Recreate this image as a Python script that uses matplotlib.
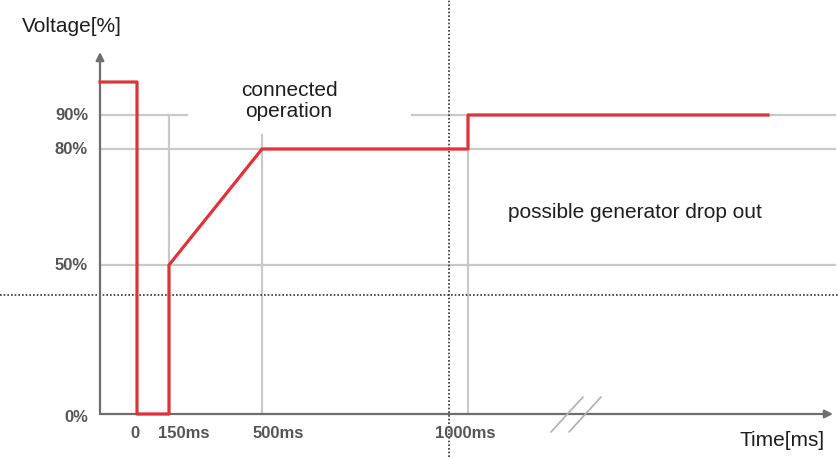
import numpy as np
import matplotlib.pyplot as plt
from matplotlib.transforms import offset_copy

# schematic voltage profile (time in ms, voltage in %)
trace_t = [-100, 0, 0, 150, 150, 500, 1000, 1000, 3000]
trace_v = [100, 100, 0, 0, 50, 80, 80, 90, 90]

y_ticks = [90, 80, 50, 0]
y_labels = ['90%', '80%', '50%', '0%']
x_ticks = [0, 150, 500, 1000]
x_labels = ['0', '150ms', '500ms', '1000ms']

dotted_v = 40      # horizontal dotted threshold
dotted_t = 955     # vertical dotted marker
break_t = 1720

# the drawing is not to scale: piecewise axis mapping
t_anchor = [-100, 0, 150, 500, 1000, 3000, 3500]
t_pos = [100, 137, 169, 262, 468, 768, 833]
v_anchor = [0, 50, 80, 90, 100, 120]
v_pos = [43, 192, 308, 342, 375, 405]


def extend(a, p, big=1e5):
    a = list(a); p = list(p)
    s0 = (p[1] - p[0]) / (a[1] - a[0])
    s1 = (p[-1] - p[-2]) / (a[-1] - a[-2])
    return ([a[0] - big] + a + [a[-1] + big],
            [p[0] - big * s0] + p + [p[-1] + big * s1])


ta, tp = extend(t_anchor, t_pos)
va, vp = extend(v_anchor, v_pos)
fx = lambda v: np.interp(v, ta, tp)
ix = lambda v: np.interp(v, tp, ta)
fy = lambda v: np.interp(v, va, vp)
iy = lambda v: np.interp(v, vp, va)

fig = plt.figure(figsize=(8.38, 4.57), dpi=100)
ax = fig.add_axes([0, 0, 1, 1])
ax.set_xscale('function', functions=(fx, ix))
ax.set_yscale('function', functions=(fy, iy))
ax.set_xlim(ix(0), ix(838))
ax.set_ylim(iy(0), iy(457))
ax.axis('off')

grid = '#c9c9c9'
t_end = ix(835)
for v in [80, 50]:
    ax.plot([-100, t_end], [v, v], color=grid, lw=1.6, zorder=1)
ax.plot([-100, ix(187)], [90, 90], color=grid, lw=1.6, zorder=1)
ax.plot([ix(412), t_end], [90, 90], color=grid, lw=1.6, zorder=1)
ax.plot([150, 150], [0, 90], color=grid, lw=1.6, zorder=1)
ax.plot([500, 500], [0, 84], color=grid, lw=1.6, zorder=1)
ax.plot([1000, 1000], [0, 90], color=grid, lw=1.6, zorder=1)

# dotted reference lines
ax.plot([ix(0), ix(838)], [dotted_v, dotted_v], color='#333333', lw=1.2,
        ls=(0, (1, 1.2)), zorder=2)
ax.plot([dotted_t, dotted_t], [iy(0), iy(457)], color='#333333', lw=1.2,
        ls=(0, (1, 1.2)), zorder=2)

# axes with arrows
ax.annotate('', xy=(-100, 120), xytext=(-100, 0),
            arrowprops=dict(arrowstyle='-|>', color='#6e6e6e', lw=1.6,
                            mutation_scale=12, shrinkA=0, shrinkB=0))
ax.annotate('', xy=(3500, 0), xytext=(-100, 0),
            arrowprops=dict(arrowstyle='-|>', color='#6e6e6e', lw=1.6,
                            mutation_scale=12, shrinkA=0, shrinkB=0))

# break marks on the time axis
for dx in [-9, 9]:
    ax.annotate('', xy=(break_t, 0),
                xycoords=offset_copy(ax.transData, fig=fig, x=dx + 16, y=17, units='dots'),
                xytext=(break_t, 0),
                textcoords=offset_copy(ax.transData, fig=fig, x=dx - 16, y=-18, units='dots'),
                arrowprops=dict(arrowstyle='-', color='#b0b0b0', lw=1.2,
                                shrinkA=0, shrinkB=0))

ax.plot(trace_t, trace_v, color='#e0323a', lw=2.3, zorder=5)

lab = dict(fontfamily='Liberation Sans', fontweight='bold', fontsize=12, color='#555555')
for v, s in zip(y_ticks, y_labels):
    ax.annotate(s, xy=(-100, v), xytext=(-12, -3 if v == 0 else 0),
                textcoords='offset pixels', ha='right', va='center', **lab)
x_off = [-2, 15, 16, -3]
for t, s, o in zip(x_ticks, x_labels, x_off):
    ax.annotate(s, xy=(t, 0), xytext=(o, -19), textcoords='offset pixels',
                ha='center', va='center', **lab)

txt = dict(fontfamily='Liberation Sans', fontsize=15, color='#1e1e1e')
fig.text(22 / 838, 1 - 27 / 457, 'Voltage[%]', ha='left', va='center', **txt)
fig.text(825 / 838, 1 - 441 / 457, 'Time[ms]', ha='right', va='center', **txt)
fig.text(289 / 838, 1 - 101 / 457, 'connected\noperation', ha='center', va='center',
         linespacing=1.15, **txt)
fig.text(508 / 838, 1 - 212 / 457, 'possible generator drop out', ha='left',
         va='center', **txt)

fig.savefig('out.png', dpi=100)
